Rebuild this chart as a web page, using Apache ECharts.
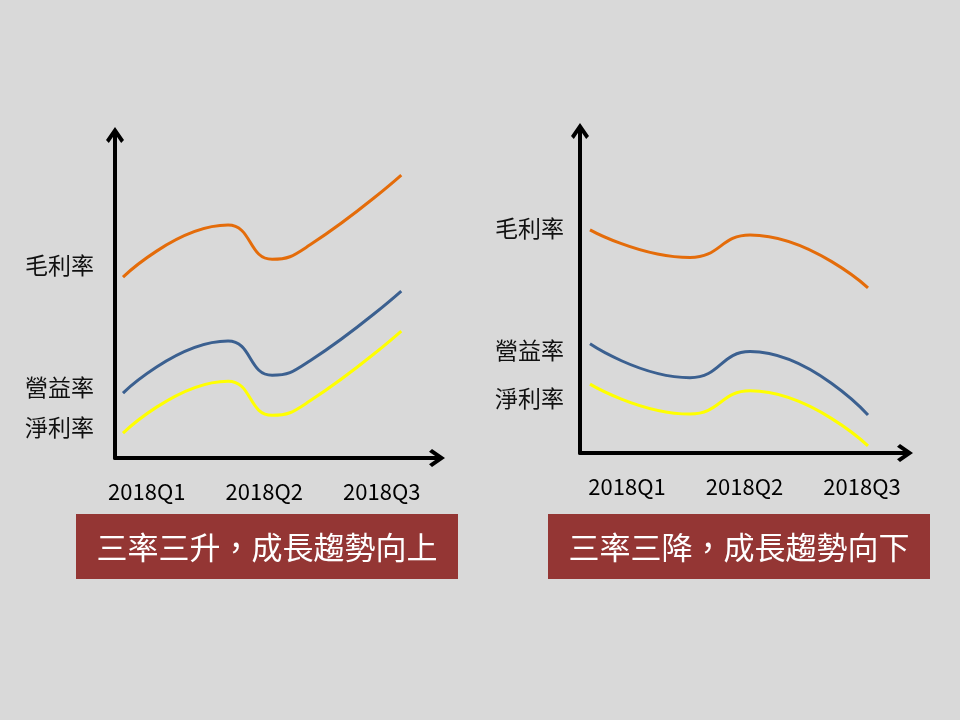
<!DOCTYPE html>
<html>
<head>
<meta charset="utf-8">
<script src="https://cdn.jsdelivr.net/npm/echarts@6/dist/echarts.min.js"></script>
<style>
  html, body { margin: 0; padding: 0; background: #d9d9d9; }
  #chart { width: 960px; height: 720px; }
</style>
</head>
<body>
<div id="chart"></div>
<script>
// quarter labels on the x axis (placed at 1, 2, 3)
const quarters = ["2018Q1", "2018Q2", "2018Q3"];
const quarterTicks = [1, 2, 3];
const seriesNames = ["毛利率", "營益率", "淨利率"];

// left panel: rising trend (x in quarter units, y in arbitrary %)
const upX = [0.798, 1.692, 2.067, 2.39, 3.166];
const upGross = [56.0, 72.1, 61.5, 66.0, 87.6];
const upOperating = [20.1, 36.2, 25.6, 30.1, 51.7];
const upNet = [7.7, 23.8, 13.2, 17.7, 39.3];
const upLabelLevels = [59.8, 22.0, 9.6];

// right panel: falling trend
const downX = [0.685, 1.536, 2.047, 3.051];
const downGross = [69.3, 60.7, 67.7, 51.3];
const downOperating = [33.9, 23.4, 31.5, 11.8];
const downNet = [21.4, 12.1, 19.3, 2.2];
const downLabelLevels = [69.9, 32.0, 17.1];

const captions = ["三率三升，成長趨勢向上", "三率三降，成長趨勢向下"];

const colors = ["#e46c0a", "#3b6090", "#ffff00"];
const FONT = "'Noto Sans CJK TC', 'Noto Sans', sans-serif";

// open chevron arrow head, pointing up in symbol space
const arrowHead = "path://M9,0 L18,13 L15.2,16 L9,7 L2.8,16 L0,13 Z";

function pairs(xs, ys) {
  return xs.map((x, i) => [x, ys[i]]);
}

function xAxisFor(idx, min, max) {
  return {
    type: "value",
    gridIndex: idx,
    min: min,
    max: max,
    axisLine: {
      show: true,
      symbol: ["none", arrowHead],
      symbolSize: [18, 16],
      lineStyle: { color: "#000", width: 4 },
    },
    axisTick: { show: false },
    splitLine: { show: false },
    axisLabel: {
      customValues: quarterTicks,
      margin: 23,
      fontSize: 22,
      fontFamily: FONT,
      color: "#000",
      formatter: (v) => quarters[quarterTicks.indexOf(v)] || "",
    },
  };
}

function yAxisFor(idx, levels, margin) {
  return {
    type: "value",
    gridIndex: idx,
    min: 0,
    max: 100,
    axisLine: {
      show: true,
      symbol: ["none", arrowHead],
      symbolSize: [18, 16],
      lineStyle: { color: "#000", width: 4 },
    },
    axisTick: { show: false },
    splitLine: { show: false },
    axisLabel: {
      customValues: levels,
      margin: margin,
      fontSize: 23,
      fontFamily: FONT,
      color: "#111",
      formatter: (v) => seriesNames[levels.indexOf(v)] || "",
    },
  };
}

function lineSeries(idx, name, xs, ys, color) {
  return {
    name: name,
    type: "line",
    xAxisIndex: idx,
    yAxisIndex: idx,
    data: pairs(xs, ys),
    smooth: 0.5,
    symbol: "none",
    lineStyle: { color: color, width: 3 },
    silent: true,
  };
}

function caption(x, text) {
  return {
    type: "group",
    left: x,
    top: 514,
    children: [
      {
        type: "rect",
        shape: { x: 0, y: 0, width: 382, height: 65 },
        style: { fill: "#943634" },
      },
      {
        type: "text",
        x: 191,
        y: 33,
        style: {
          text: text,
          fill: "#fff",
          font: "31px " + FONT,
          textAlign: "center",
          textVerticalAlign: "middle",
        },
      },
    ],
  };
}

var chart = echarts.init(document.getElementById("chart"));

chart.setOption({
  backgroundColor: "#d9d9d9",
  animation: false,
  grid: [
    { left: 115, top: 135, width: 322, height: 323 },
    { left: 580, top: 131, width: 325, height: 322 },
  ],
  xAxis: [xAxisFor(0, 0.73, 3.47), xAxisFor(1, 0.6, 3.366)],
  yAxis: [yAxisFor(0, upLabelLevels, 21), yAxisFor(1, downLabelLevels, 16)],
  series: [
    lineSeries(0, seriesNames[0], upX, upGross, colors[0]),
    lineSeries(0, seriesNames[1], upX, upOperating, colors[1]),
    lineSeries(0, seriesNames[2], upX, upNet, colors[2]),
    lineSeries(1, seriesNames[0], downX, downGross, colors[0]),
    lineSeries(1, seriesNames[1], downX, downOperating, colors[1]),
    lineSeries(1, seriesNames[2], downX, downNet, colors[2]),
  ],
  graphic: [caption(76, captions[0]), caption(548, captions[1])],
});
</script>
</body>
</html>
